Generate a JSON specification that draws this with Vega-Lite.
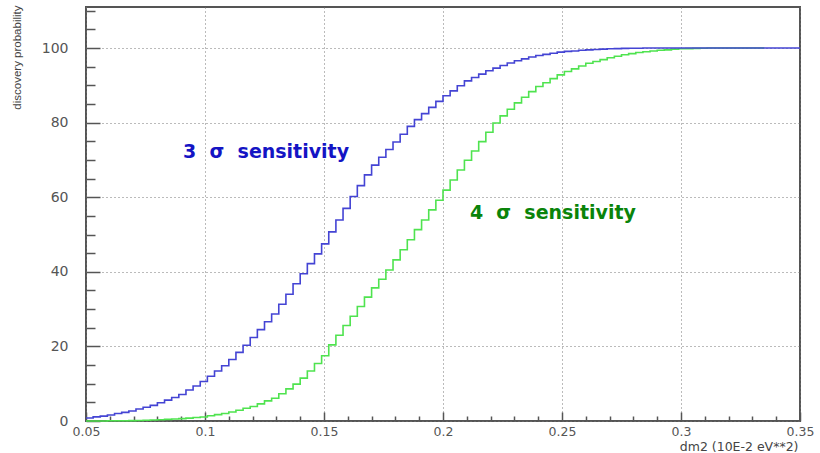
{
  "$schema": "https://vega.github.io/schema/vega-lite/v6.json",
  "width": 714,
  "height": 414,
  "autosize": {"type": "none"},
  "padding": {"left": 86, "top": 7, "right": 20, "bottom": 32},
  "background": "white",
  "config": {
    "view": {"stroke": "#555555", "strokeWidth": 2},
    "axis": {"domain": false}
  },
  "datasets": {
    "curves": [
      {"x":0.05,"b":0.8,"g":0.0},{"x":0.053,"b":1.1,"g":0.0},{"x":0.056,"b":1.3,"g":0.0},{"x":0.059,"b":1.6,"g":0.05},{"x":0.062,"b":2.0,"g":0.07},
      {"x":0.065,"b":2.3,"g":0.08},{"x":0.068,"b":2.7,"g":0.1},{"x":0.071,"b":3.2,"g":0.15},{"x":0.074,"b":3.7,"g":0.21},{"x":0.077,"b":4.2,"g":0.27},
      {"x":0.08,"b":4.9,"g":0.35},{"x":0.083,"b":5.6,"g":0.44},{"x":0.086,"b":6.3,"g":0.53},{"x":0.089,"b":7.1,"g":0.63},{"x":0.092,"b":8.3,"g":0.78},
      {"x":0.095,"b":9.4,"g":0.93},{"x":0.098,"b":10.6,"g":1.08},{"x":0.101,"b":12.0,"g":1.4},{"x":0.104,"b":13.4,"g":1.7},{"x":0.107,"b":14.8,"g":2.0},
      {"x":0.11,"b":16.5,"g":2.4},{"x":0.113,"b":18.4,"g":2.9},{"x":0.116,"b":20.3,"g":3.4},{"x":0.119,"b":22.4,"g":3.9},{"x":0.122,"b":24.5,"g":4.6},
      {"x":0.125,"b":26.6,"g":5.4},{"x":0.128,"b":28.7,"g":6.1},{"x":0.131,"b":31.3,"g":7.3},{"x":0.134,"b":34.0,"g":8.6},{"x":0.137,"b":36.8,"g":9.9},
      {"x":0.14,"b":39.5,"g":11.5},{"x":0.143,"b":42.2,"g":13.4},{"x":0.146,"b":44.8,"g":15.4},{"x":0.149,"b":47.5,"g":17.5},{"x":0.152,"b":50.7,"g":20.4},
      {"x":0.155,"b":53.9,"g":23.0},{"x":0.158,"b":57.0,"g":25.6},{"x":0.161,"b":60.2,"g":28.1},{"x":0.164,"b":63.1,"g":30.7},{"x":0.167,"b":66.0,"g":33.2},
      {"x":0.17,"b":68.6,"g":35.7},{"x":0.173,"b":70.7,"g":38.0},{"x":0.176,"b":72.8,"g":40.5},{"x":0.179,"b":74.8,"g":43.2},{"x":0.182,"b":76.9,"g":45.9},
      {"x":0.185,"b":79.0,"g":48.6},{"x":0.188,"b":80.8,"g":51.3},{"x":0.191,"b":82.4,"g":53.9},{"x":0.194,"b":84.1,"g":56.6},{"x":0.197,"b":85.7,"g":59.2},
      {"x":0.2,"b":87.2,"g":61.9},{"x":0.203,"b":88.5,"g":64.6},{"x":0.206,"b":89.9,"g":67.3},{"x":0.209,"b":91.2,"g":69.9},{"x":0.212,"b":92.1,"g":72.4},
      {"x":0.215,"b":93.0,"g":74.9},{"x":0.218,"b":93.9,"g":77.4},{"x":0.221,"b":94.6,"g":79.9},{"x":0.224,"b":95.3,"g":81.8},{"x":0.227,"b":96.0,"g":83.6},
      {"x":0.23,"b":96.6,"g":85.3},{"x":0.233,"b":97.1,"g":86.8},{"x":0.236,"b":97.6,"g":88.3},{"x":0.239,"b":98.0,"g":89.7},{"x":0.242,"b":98.3,"g":90.7},
      {"x":0.245,"b":98.6,"g":91.8},{"x":0.248,"b":98.9,"g":92.8},{"x":0.251,"b":99.1,"g":93.7},{"x":0.254,"b":99.2,"g":94.4},{"x":0.257,"b":99.4,"g":95.2},
      {"x":0.26,"b":99.5,"g":95.9},{"x":0.263,"b":99.6,"g":96.4},{"x":0.266,"b":99.7,"g":96.9},{"x":0.269,"b":99.8,"g":97.4},{"x":0.272,"b":99.85,"g":97.8},
      {"x":0.275,"b":99.9,"g":98.2},{"x":0.278,"b":99.95,"g":98.5},{"x":0.281,"b":99.96,"g":98.8},{"x":0.284,"b":100,"g":99.0},{"x":0.287,"b":100,"g":99.2},
      {"x":0.29,"b":100,"g":99.4},{"x":0.293,"b":100,"g":99.5},{"x":0.296,"b":100,"g":99.7},{"x":0.299,"b":100,"g":99.8},{"x":0.302,"b":100,"g":99.85},
      {"x":0.305,"b":100,"g":99.9},{"x":0.308,"b":100,"g":99.95},{"x":0.311,"b":100,"g":100},{"x":0.314,"b":100,"g":100},{"x":0.317,"b":100,"g":100},
      {"x":0.32,"b":100,"g":100},{"x":0.323,"b":100,"g":100},{"x":0.326,"b":100,"g":100},{"x":0.329,"b":100,"g":100},{"x":0.332,"b":100,"g":100},
      {"x":0.335,"b":100,"g":100},{"x":0.338,"b":100,"g":null},{"x":0.341,"b":100,"g":null},{"x":0.344,"b":100,"g":null},{"x":0.347,"b":100,"g":null},
      {"x":0.35,"b":100,"g":null}
    ],
    "labels": [
      {"x":0.0908,"y":72.0,"label":"3\u00a0\u00a0σ\u00a0\u00a0sensitivity","s":"b"},
      {"x":0.2113,"y":55.8,"label":"4\u00a0\u00a0σ\u00a0\u00a0sensitivity","s":"g"}
    ]
  },
  "encoding": {
    "x": {
      "field": "x", "type": "quantitative",
      "scale": {"domain": [0.05, 0.35], "nice": false, "zero": false},
      "axis": {
        "values": [0.05,0.06,0.07,0.08,0.09,0.1,0.11,0.12,0.13,0.14,0.15,0.16,0.17,0.18,0.19,0.2,0.21,0.22,0.23,0.24,0.25,0.26,0.27,0.28,0.29,0.3,0.31,0.32,0.33,0.34,0.35],
        "format": ".2~f",
        "labelExpr": "round(datum.value*100) % 5 == 0 ? datum.label : ''",
        "labelFont": "DejaVu Sans", "labelFontSize": 12.5, "labelColor": "#555555",
        "labelFlush": false, "labelOverlap": false,
        "tickColor": "#555555", "tickWidth": 1.5,
        "tickSize": {"condition": {"test": "round(datum.value*100) % 5 == 0", "value": -9}, "value": -5},
        "labelPadding": {"condition": {"test": "round(datum.value*100) % 5 == 0", "value": 13}, "value": 9},
        "grid": true, "gridColor": "#777777", "gridDash": [1, 3],
        "gridOpacity": {"condition": {"test": "round(datum.value*100) % 5 == 0", "value": 1}, "value": 0},
        "title": "dm2 (10E-2 eV**2)",
        "titleFont": "DejaVu Sans", "titleFontSize": 12.5, "titleFontWeight": "normal", "titleColor": "#444444",
        "titleAnchor": "end", "titleAlign": "right", "titleX": 712, "titleY": 25, "titleBaseline": "middle"
      }
    },
    "y": {
      "field": "value", "type": "quantitative",
      "scale": {"domain": [0, 111], "nice": false},
      "axis": {
        "values": [0,5,10,15,20,25,30,35,40,45,50,55,60,65,70,75,80,85,90,95,100,105,110],
        "labelExpr": "datum.value % 20 == 0 ? datum.label : ''",
        "labelFont": "DejaVu Sans", "labelFontSize": 14, "labelColor": "#555555",
        "labelFlush": false, "labelOverlap": false,
        "tickColor": "#555555", "tickWidth": 1.5,
        "tickSize": {"condition": {"test": "datum.value % 20 == 0", "value": -14}, "value": -9},
        "labelPadding": {"condition": {"test": "datum.value % 20 == 0", "value": 32}, "value": 27},
        "grid": true, "gridColor": "#777777", "gridDash": [1, 3],
        "gridOpacity": {"condition": {"test": "datum.value % 20 == 0", "value": 1}, "value": 0},
        "title": "discovery probability",
        "titleFont": "Liberation Sans", "titleFontSize": 11.5, "titleFontWeight": "normal", "titleColor": "#444444",
        "titleAngle": -90, "titleAlign": "right", "titleBaseline": "middle", "titleX": -69, "titleY": -2
      }
    }
  },
  "layer": [
    {
      "data": {"name": "curves"},
      "transform": [{"fold": ["g", "b"], "as": ["series", "value"]}],
      "mark": {"type": "line", "interpolate": "step-after", "strokeWidth": 1.6},
      "encoding": {
        "color": {"field": "series", "type": "nominal", "scale": {"domain": ["b", "g"], "range": ["#4444d4", "#4fe34f"]}, "legend": null},
        "order": {"field": "x", "type": "quantitative"}
      }
    },
    {
      "data": {"name": "labels"},
      "transform": [{"filter": "datum.s == 'b'"}],
      "mark": {"type": "text", "align": "left", "baseline": "middle", "font": "DejaVu Sans", "fontSize": 19, "fontWeight": "bold", "color": "#1414c4"},
      "encoding": {
        "y": {"field": "y", "type": "quantitative"},
        "text": {"field": "label"}
      }
    },
    {
      "data": {"name": "labels"},
      "transform": [{"filter": "datum.s == 'g'"}],
      "mark": {"type": "text", "align": "left", "baseline": "middle", "font": "DejaVu Sans", "fontSize": 19, "fontWeight": "bold", "color": "#0a840a"},
      "encoding": {
        "y": {"field": "y", "type": "quantitative"},
        "text": {"field": "label"}
      }
    }
  ]
}
